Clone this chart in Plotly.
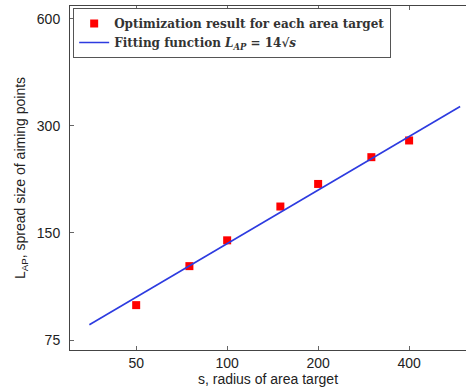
import math
import plotly.graph_objects as go

# Data
s_points = [50, 75, 100, 150, 200, 300, 400]
L_points = [94, 121, 143, 178, 206, 245, 273]

# Fitting function endpoints (power law, straight on log-log)
line_s = [35, 590]
line_L = [82.8, 340]

x_ticks = [50, 100, 200, 400]
y_ticks = [75, 150, 300, 600]

fig = go.Figure()
fig.add_trace(go.Scatter(
    x=s_points, y=L_points, mode="markers",
    marker=dict(symbol="square", color="#ff0000", size=8),
    name="<b>Optimization result for each area target</b>",
))
fig.add_trace(go.Scatter(
    x=line_s, y=line_L, mode="lines",
    line=dict(color="#2d3be0", width=1.6),
    name="<b>Fitting function <i>L</i><sub><i>AP</i></sub> = 14√<i>s</i></b>",
))

fig.update_layout(
    width=466, height=392, autosize=False,
    margin=dict(l=70, r=0, t=6, b=42),
    paper_bgcolor="white", plot_bgcolor="white",
    font=dict(family="Liberation Sans, Arial", size=14, color="#222"),
    showlegend=True,
    legend=dict(
        x=0.008, y=0.994, xanchor="left", yanchor="top",
        bgcolor="white", bordercolor="#555", borderwidth=1,
        font=dict(family="DejaVu Serif", size=12, color="#333"),
        tracegroupgap=0, itemwidth=30,
    ),
)
fig.update_xaxes(
    type="log", range=[math.log10(30.2), math.log10(617)],
    tickvals=x_ticks, ticktext=[str(v) for v in x_ticks],
    ticks="inside", ticklen=4, tickcolor="#666",
    showline=True, linecolor="#444", linewidth=1, mirror="ticks",
    showgrid=False, zeroline=False,
    title=dict(text="s, radius of area target", standoff=0, font=dict(size=14)),
)
fig.update_yaxes(
    type="log", range=[math.log10(70.3), math.log10(652)],
    tickvals=y_ticks, ticktext=[str(v) for v in y_ticks],
    ticks="inside", ticklen=4, tickcolor="#666",
    showline=True, linecolor="#444", linewidth=1, mirror=False,
    showgrid=False, zeroline=False, ticklabelstandoff=6,
    title=dict(text="L<sub>AP</sub>, spread size of aiming points", standoff=7, font=dict(size=14)),
)

fig.write_html(
    "out.html",
    config={"displayModeBar": False},
    post_script="document.body.style.margin='0';document.body.style.padding='0';",
)
